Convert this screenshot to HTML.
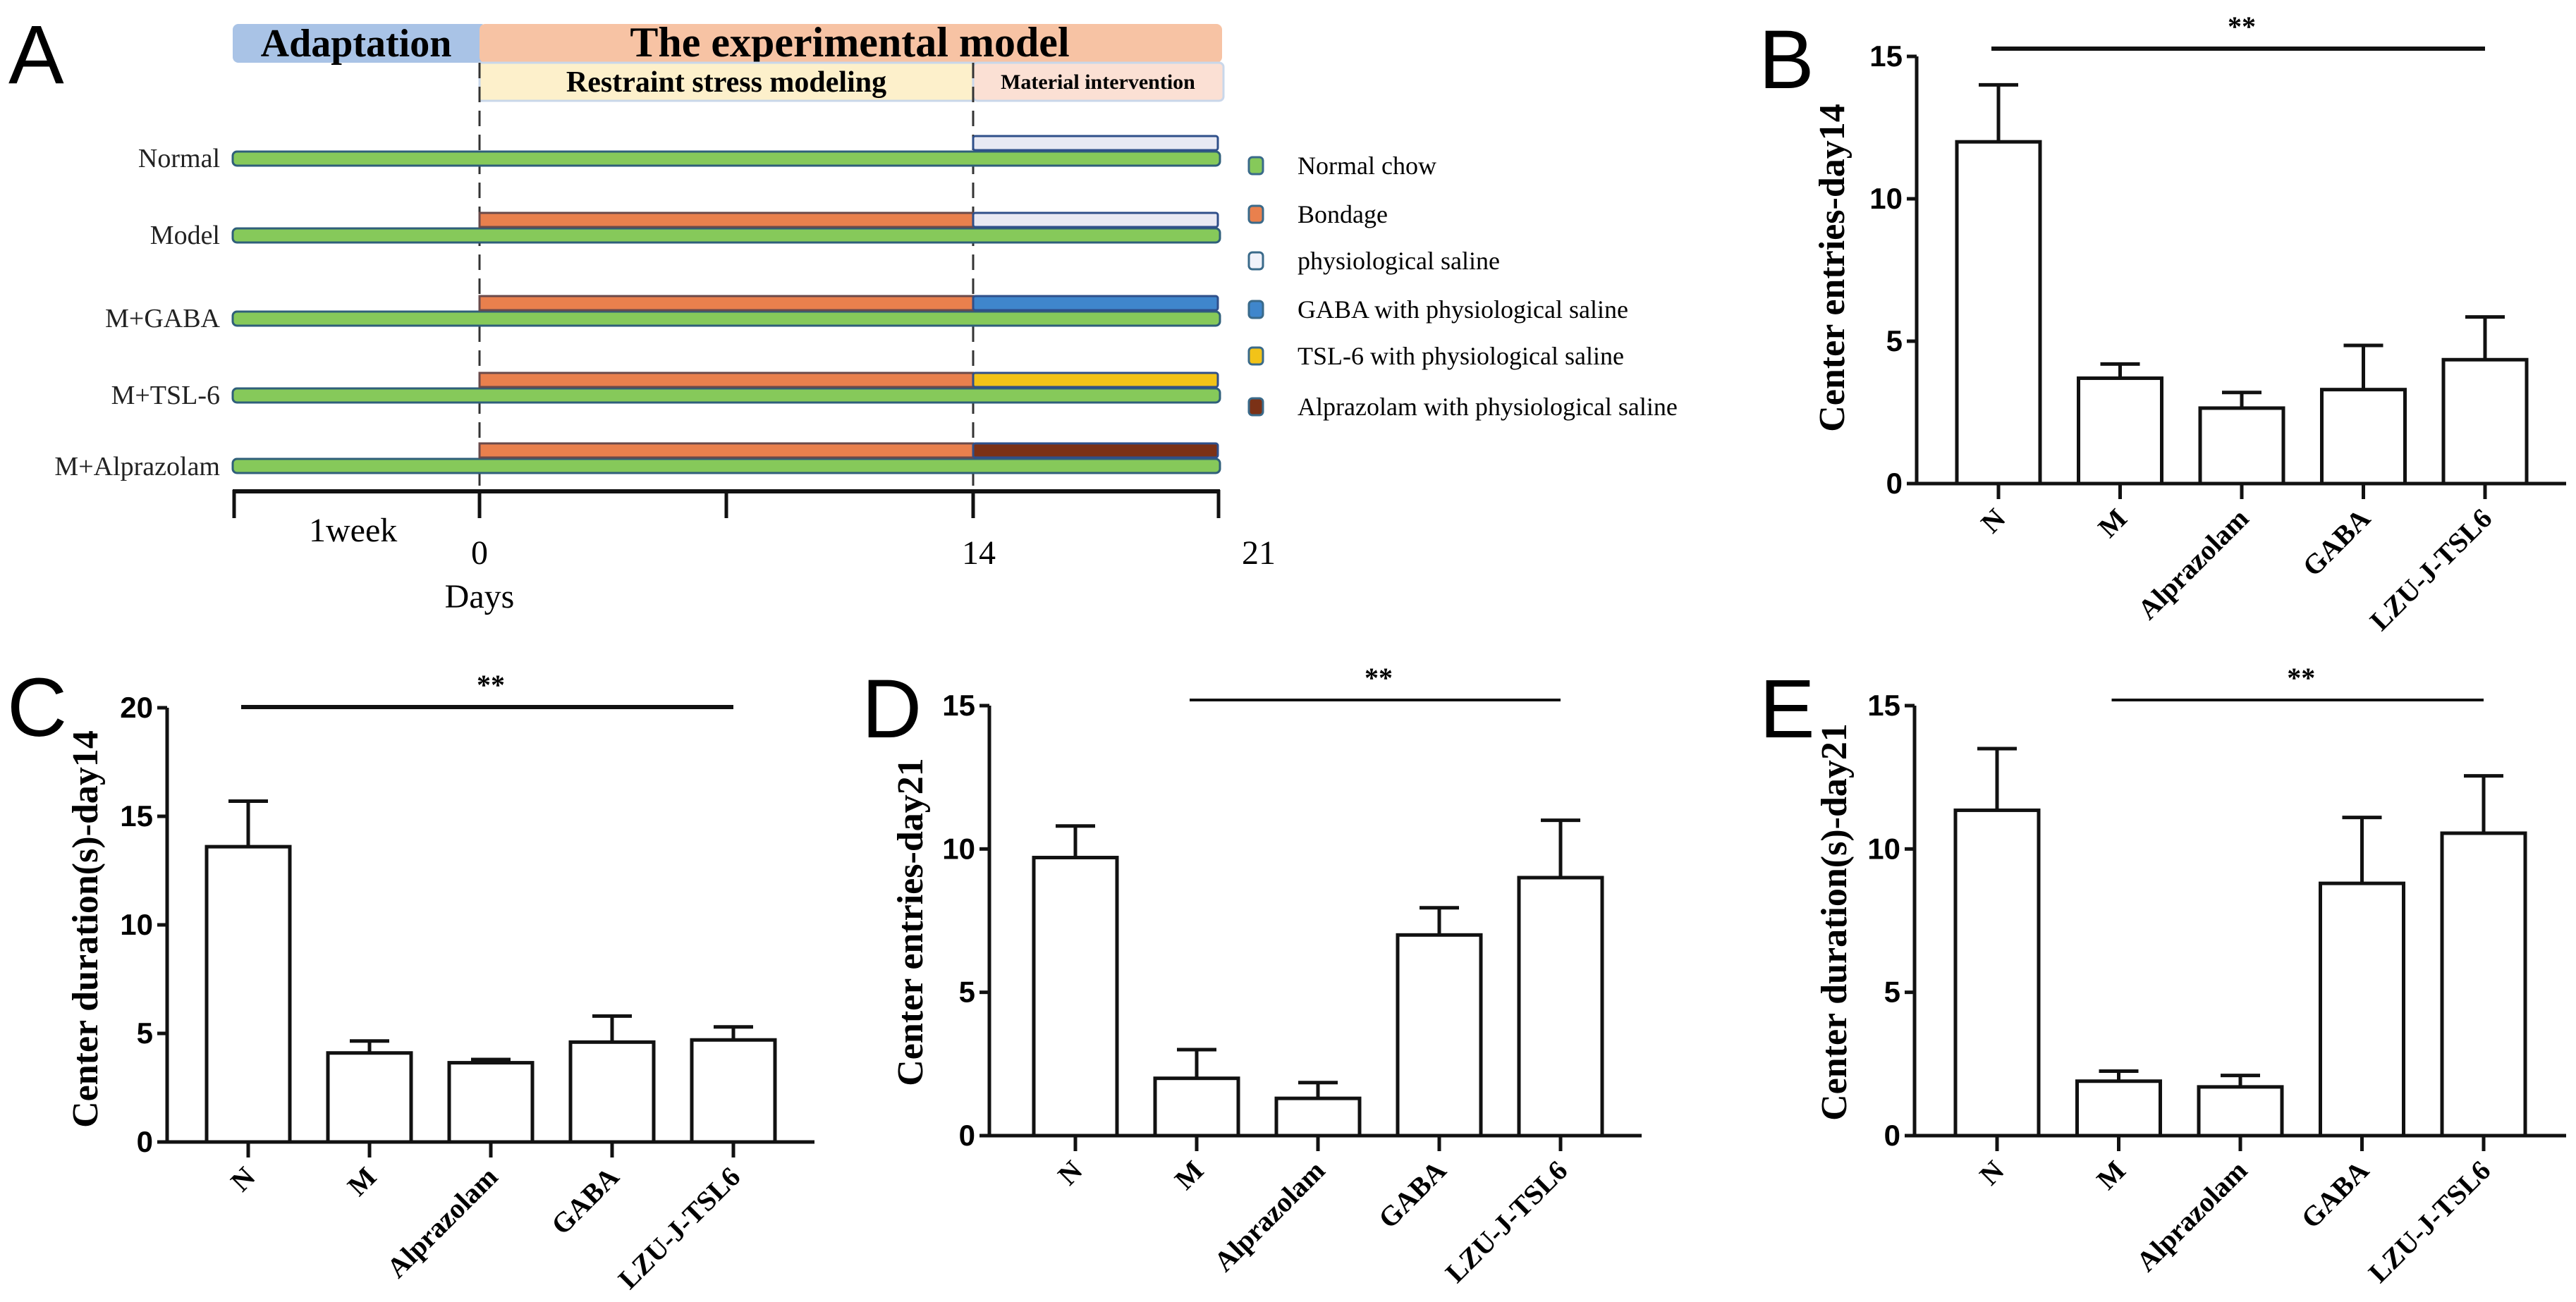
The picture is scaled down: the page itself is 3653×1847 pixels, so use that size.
<!DOCTYPE html>
<html><head><meta charset="utf-8"><style>
html,body{margin:0;padding:0;background:#fff;width:3653px;height:1847px;overflow:hidden}
svg text{font-family:"Liberation Serif",serif}
.sans{font-family:"Liberation Sans",sans-serif}
</style></head><body>
<svg id="fig" width="3653" height="1847" viewBox="0 0 3653 1847" xmlns="http://www.w3.org/2000/svg">
<!-- Panel A -->
<g>
<text class="sans" x="12" y="118" font-size="118">A</text>
<rect x="330" y="34" width="360" height="55" rx="8" fill="#a9c3e6"/>
<rect x="680" y="34" width="1053" height="55" rx="8" fill="#f7c3a4"/>
<text x="505" y="80" font-size="56" font-weight="bold" text-anchor="middle">Adaptation</text>
<text x="1205" y="80" font-size="60" font-weight="bold" text-anchor="middle">The experimental model</text>
<rect x="680" y="89" width="700" height="54" fill="#fdf0cb" stroke="#c9d7ea" stroke-width="3"/>
<rect x="1380" y="89" width="355" height="54" rx="6" fill="#fbe0d4" stroke="#c9d7ea" stroke-width="3"/>
<text x="1030" y="130" font-size="42" font-weight="bold" text-anchor="middle">Restraint stress modeling</text>
<text x="1557" y="126" font-size="30" font-weight="bold" text-anchor="middle">Material intervention</text>
<line x1="680" y1="89" x2="680" y2="729" stroke="#333" stroke-width="3" stroke-dasharray="22,12"/>
<line x1="1380" y1="89" x2="1380" y2="729" stroke="#333" stroke-width="3" stroke-dasharray="22,12"/>
<g id="rows"></g>
<g font-size="38" text-anchor="end" fill="#222">
<text x="312" y="237">Normal</text>
<text x="312" y="346">Model</text>
<text x="312" y="464">M+GABA</text>
<text x="312" y="573">M+TSL-6</text>
<text x="312" y="674">M+Alprazolam</text>
</g>
<g id="legend" font-size="36"></g>
<line x1="330" y1="697" x2="1730" y2="697" stroke="#111" stroke-width="6"/>
<g stroke="#111" stroke-width="5">
<line x1="332" y1="695" x2="332" y2="735"/><line x1="680" y1="695" x2="680" y2="735"/><line x1="1030" y1="695" x2="1030" y2="735"/><line x1="1380" y1="695" x2="1380" y2="735"/><line x1="1728" y1="695" x2="1728" y2="735"/>
</g>
<g font-size="48">
<text x="438" y="768">1week</text>
<text x="680" y="800" text-anchor="middle">0</text>
<text x="1388" y="800" text-anchor="middle">14</text>
<text x="1785" y="800" text-anchor="middle">21</text>
<text x="680" y="862" text-anchor="middle">Days</text>
</g>
</g>
<g id="charts"></g>
</svg>
<script>
// ---- Timeline data (panel A) ----
const rowNames = ["Normal","Model","M+GABA","M+TSL-6","M+Alprazolam"];
const rowStressColors = [null,"#e9804d","#e9804d","#e9804d","#e9804d"];
const rowInterventionColors = ["#e8e9f3","#e8e9f3","#3f86cc","#f2c318","#7b3116"];
const legendLabels = ["Normal chow","Bondage","physiological saline","GABA with physiological saline","TSL-6 with physiological saline","Alprazolam with physiological saline"];
const legendColors = ["#86c95a","#e9804d","#f0f2fa","#3f86cc","#f2c318","#7b3116"];

// ---- Bar chart data ----
const categories = ["N","M","Alprazolam","GABA","LZU-J-TSL6"];
const valuesB = [12.0,3.7,2.65,3.3,4.35];
const errB = [2.0,0.5,0.55,1.55,1.5];
const valuesC = [13.6,4.1,3.65,4.6,4.7];
const errC = [2.1,0.55,0.15,1.2,0.6];
const valuesD = [9.7,2.0,1.3,7.0,9.0];
const errD = [1.1,1.0,0.55,0.95,2.0];
const valuesE = [11.35,1.9,1.7,8.8,10.55];
const errE = [2.15,0.35,0.4,2.3,2.0];
const ticksB = [0,5,10,15];
const ticksC = [0,5,10,15,20];
const ticksD = [0,5,10,15];
const ticksE = [0,5,10,15];

const NS = "http://www.w3.org/2000/svg";
function mk(tag, attrs, parent){const e=document.createElementNS(NS,tag);for(const k in attrs)e.setAttribute(k,attrs[k]);parent.appendChild(e);return e;}

// Timeline rows
const rowsG = document.getElementById('rows');
const rowGreenY = [215,324,442,551,651];
const tScale = d => 680 + d*(1380-680)/14; // day -> x
rowNames.forEach((n,i)=>{
  const gy = rowGreenY[i];
  const g = mk('rect',{x:330,y:gy,width:1400,height:20,rx:6,fill:'#86c95a',stroke:'#2f5f7a','stroke-width':3},rowsG);
  
  
  if(rowStressColors[i]){
    const s = mk('rect',{x:tScale(0),y:gy-22,width:tScale(14)-tScale(0),height:20,fill:rowStressColors[i],stroke:'#6a4a4a','stroke-width':3},rowsG);
    
    
  }
  const v = mk('rect',{x:tScale(14),y:gy-22,width:tScale(21)-tScale(14)-3,height:20,rx:3,fill:rowInterventionColors[i],stroke:'#2f4f8a','stroke-width':3},rowsG);
  
  
});
const legG = document.getElementById('legend');
const legY = [235,304,370,439,505,577];
legendLabels.forEach((l,i)=>{
  const r = mk('rect',{x:1771,y:legY[i]-12,width:20,height:24,rx:5,fill:legendColors[i],stroke:'#3a6a8a','stroke-width':3},legG);
  
  
  const t = mk('text',{x:1840,y:legY[i]+12},legG);
  t.textContent = l;
  
  
});

// Bar charts
const chartsG = document.getElementById('charts');
function barChart(cfg, vals, errs, ticks){
  const g = mk('g',{},chartsG);
  
  
  const ymax = ticks[ticks.length-1];
  const yS = v => cfg.y0 - v*(cfg.y0-cfg.yTop)/ymax;
  const xS = i => cfg.c0 + i*cfg.step;
  const lab = mk('text',{x:cfg.lx,y:cfg.ly,'font-size':118,class:'sans'},g);
  lab.textContent = cfg.id.toUpperCase();
  
  
  const ya = mk('line',{x1:cfg.ax,y1:cfg.yTop,x2:cfg.ax,y2:cfg.y0+2,stroke:'#111','stroke-width':5},g);
  
  
  ticks.forEach(t=>{
    mk('line',{x1:cfg.ax-14,y1:yS(t),x2:cfg.ax,y2:yS(t),stroke:'#111','stroke-width':5},g);
    const tl = mk('text',{x:cfg.ax-20,y:yS(t)+14,'font-size':42,'font-weight':'bold','text-anchor':'end',class:'sans'},g);
    tl.textContent = t;
    
    
  });
  const yt = mk('text',{x:0,y:0,'font-size':52,'font-weight':'bold','text-anchor':'middle',transform:`translate(${cfg.tx},${cfg.ty}) rotate(-90)`},g);
  yt.textContent = cfg.title;
  
  
  vals.forEach((v,i)=>{
    const cx = xS(i), w = 118;
    const eb = mk('line',{x1:cx,y1:yS(v),x2:cx,y2:yS(v+errs[i]),stroke:'#111','stroke-width':5},g);
    
    
    const cap = mk('line',{x1:cx-28,y1:yS(v+errs[i]),x2:cx+28,y2:yS(v+errs[i]),stroke:'#111','stroke-width':5},g);
    
    
    const r = mk('rect',{x:cx-w/2,y:yS(v),width:w,height:cfg.y0-yS(v),fill:'#fff',stroke:'#111','stroke-width':5},g);
    
    
    mk('line',{x1:cx,y1:cfg.y0,x2:cx,y2:cfg.y0+22,stroke:'#111','stroke-width':5},g);
    const xl = mk('text',{x:0,y:0,'font-size':40,'font-weight':'bold','text-anchor':'end',transform:`translate(${cx+12},${cfg.y0+52}) rotate(-45)`},g);
    xl.textContent = categories[i];
    
    
  });
  const xa = mk('line',{x1:cfg.ax-2,y1:cfg.y0,x2:cfg.xEnd,y2:cfg.y0,stroke:'#111','stroke-width':5},g);
  
  
  const sl = mk('line',{x1:xS(cfg.s0)-10,y1:cfg.sy,x2:xS(4),y2:cfg.sy,stroke:'#111','stroke-width':cfg.sw},g);
  
  
  const st = mk('text',{x:(xS(cfg.s0)+xS(4))/2,y:cfg.sy-18,'font-size':40,'font-weight':'bold','text-anchor':'middle'},g);
  st.textContent = '**';
  
  
}
barChart({id:'b',ax:2718,y0:686,yTop:80,c0:2834,step:172.5,xEnd:3639,sy:69,s0:0,sw:6,lx:2494,ly:125,tx:2615,ty:380,title:'Center entries-day14'},valuesB,errB,ticksB);
barChart({id:'c',ax:237,y0:1620,yTop:1004,c0:352,step:172,xEnd:1155,sy:1003,s0:0,sw:6,lx:10,ly:1044,tx:138,ty:1318,title:'Center duration(s)-day14'},valuesC,errC,ticksC);
barChart({id:'d',ax:1403,y0:1611,yTop:1001,c0:1525,step:172,xEnd:2328,sy:993,s0:1,sw:4,lx:1222,ly:1046,tx:1308,ty:1308,title:'Center entries-day21'},valuesD,errD,ticksD);
barChart({id:'e',ax:2715,y0:1611,yTop:1001,c0:2832,step:172.5,xEnd:3639,sy:993,s0:1,sw:4,lx:2495,ly:1046,tx:2618,ty:1308,title:'Center duration(s)-day21'},valuesE,errE,ticksE);
</script>
</body></html>
